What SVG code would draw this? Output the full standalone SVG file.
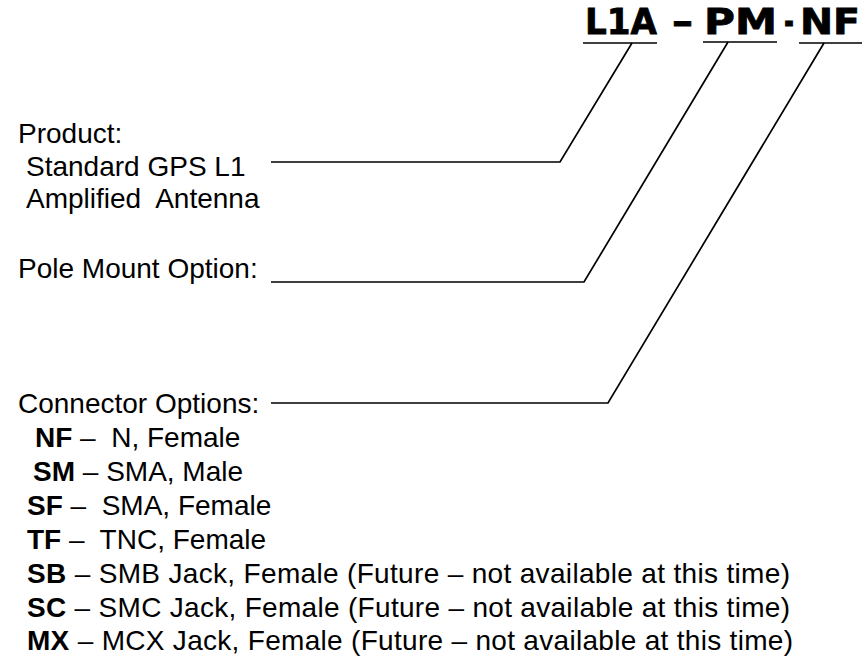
<svg xmlns="http://www.w3.org/2000/svg" width="862" height="657" viewBox="0 0 862 657">
<style>
.t{font-family:"Liberation Sans",Arial,sans-serif;font-size:28px;fill:#000;white-space:pre}
.b{font-weight:bold}
.h{font-family:"DejaVu Sans","Liberation Sans",sans-serif;font-weight:bold;font-size:36px;fill:#000;stroke:#000;stroke-width:0.8}
.ln{stroke:#000;stroke-width:1.7;fill:none}
</style>
<rect width="862" height="657" fill="#fff"/>
<g id="title">
<text class="h" x="585" y="34" textLength="72" lengthAdjust="spacingAndGlyphs">L1A</text>
<text class="h" x="672" y="34" textLength="21" lengthAdjust="spacingAndGlyphs">–</text>
<text class="h" x="704" y="34" textLength="73" lengthAdjust="spacingAndGlyphs">PM</text>
<text class="h" x="784" y="34" textLength="10" lengthAdjust="spacingAndGlyphs">-</text>
<text class="h" x="800" y="34" textLength="60" lengthAdjust="spacingAndGlyphs">NF</text>
<line class="ln" x1="583" y1="43" x2="657" y2="43"/>
<line class="ln" x1="703" y1="42" x2="777" y2="42"/>
<line class="ln" x1="799" y1="43" x2="862" y2="43"/>
</g>
<g id="product">
<text class="t" x="18" y="143">Product:</text>
<text class="t" x="26" y="176">Standard GPS L1</text>
<text class="t" x="26" y="208">Amplified  Antenna</text>
</g>
<g id="pole-mount">
<text class="t" x="18" y="278">Pole Mount Option:</text>
</g>
<g id="connector">
<text class="t" x="18" y="413">Connector Options:</text>
<text class="t" x="35" y="447"><tspan class="b">NF</tspan> –  N, Female</text>
<text class="t" x="33" y="481"><tspan class="b">SM</tspan> – SMA, Male</text>
<text class="t" x="27" y="515"><tspan class="b">SF</tspan> –  SMA, Female</text>
<text class="t" x="27" y="549"><tspan class="b">TF</tspan> –  TNC, Female</text>
<text class="t" x="27" y="583" textLength="763" lengthAdjust="spacing"><tspan class="b">SB</tspan> – SMB Jack, Female (Future – not available at this time)</text>
<text class="t" x="27" y="617" textLength="763" lengthAdjust="spacing"><tspan class="b">SC</tspan> – SMC Jack, Female (Future – not available at this time)</text>
<text class="t" x="27" y="650" textLength="766" lengthAdjust="spacing"><tspan class="b">MX</tspan> – MCX Jack, Female (Future – not available at this time)</text>
</g>
<g id="connectors">
<polyline class="ln" points="271,162 560,162 632,43"/>
<polyline class="ln" points="271,282 584,282 728,42"/>
<polyline class="ln" points="271,403 608,403 824,43"/>
</g>
</svg>
